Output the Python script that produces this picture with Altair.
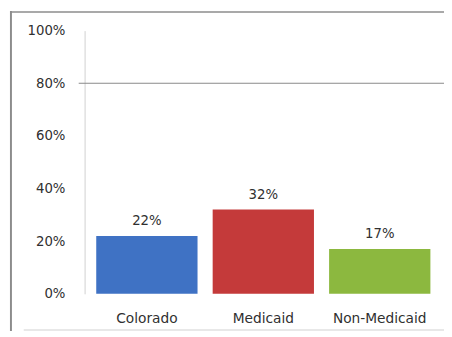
import altair as alt
import pandas as pd

categories = ["Colorado", "Medicaid", "Non-Medicaid"]
values = [0.22, 0.32, 0.17]
labels = ["22%", "32%", "17%"]
colors = ["#3F72C4", "#C43A3A", "#8CB83F"]

df = pd.DataFrame({"cat": categories, "val": values, "lab": labels})

W, H = 364, 268
FONT = "DejaVu Sans"

x = alt.X("cat:N", sort=categories,
          scale=alt.Scale(paddingInner=0.13, paddingOuter=0.1),
          axis=alt.Axis(title=None, labelAngle=0, domain=False, ticks=False,
                        labelFont=FONT, labelFontSize=14, labelColor="#303030",
                        labelPadding=18))
y = alt.Y("val:Q", scale=alt.Scale(domain=[0, 1]),
          axis=alt.Axis(title=None, format=".0%", values=[0, 0.2, 0.4, 0.6, 0.8, 1.0],
                        grid=False, domain=True, domainColor="#d0d0d0",
                        ticks=False, labelPadding=20,
                        labelFont=FONT, labelFontSize=13.5, labelColor="#303030"))

bars = alt.Chart(df).mark_bar().encode(
    x=x, y=y,
    color=alt.Color("cat:N", scale=alt.Scale(domain=categories, range=colors), legend=None),
)

text = alt.Chart(df).mark_text(dy=-15, font=FONT, fontSize=13.5, color="#303030").encode(
    x=alt.X("cat:N", sort=categories), y="val:Q", text="lab:N"
)

grid80 = alt.Chart(pd.DataFrame({"v": [0.8]})).mark_rule(color="#8a8a8a", strokeWidth=1.2).encode(
    y="v:Q", x=alt.value(-6), x2=alt.value(W + 4)
)

frame_left = alt.Chart(pd.DataFrame({"a": [0]})).mark_rule(color="#8c8c8c", strokeWidth=2).encode(
    x=alt.value(-75), y=alt.value(-20), y2=alt.value(306)
)
frame_top = alt.Chart(pd.DataFrame({"a": [0]})).mark_rule(color="#8c8c8c", strokeWidth=1.5).encode(
    y=alt.value(-19), x=alt.value(-75), x2=alt.value(W + 4)
)
frame_bottom = alt.Chart(pd.DataFrame({"a": [0]})).mark_rule(color="#e0e0e0", strokeWidth=1.5).encode(
    y=alt.value(305), x=alt.value(-62), x2=alt.value(W + 4)
)

chart = alt.layer(grid80, bars, text, frame_left, frame_top, frame_bottom).properties(
    width=W, height=H,
    autosize=alt.AutoSizeParams(type="none"),
    padding={"left": 78, "top": 20, "right": 2, "bottom": 41},
).configure(background="white").configure_view(stroke=None)

chart.save("out.html", embed_options={"renderer": "svg", "actions": False})
